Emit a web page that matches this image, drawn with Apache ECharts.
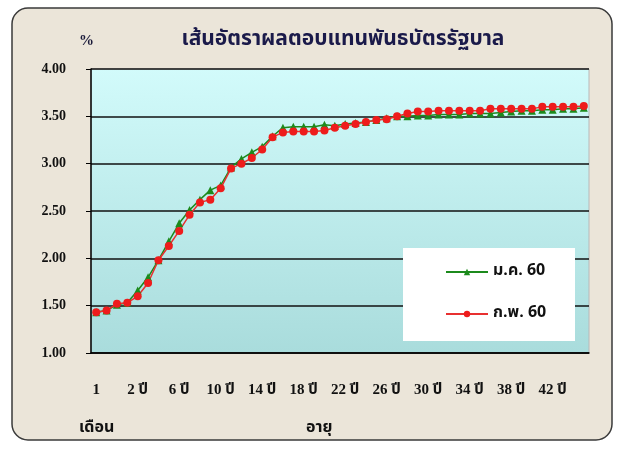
<!DOCTYPE html>
<html>
<head>
<meta charset="utf-8">
<script src="https://cdn.jsdelivr.net/npm/echarts@6/dist/echarts.min.js"></script>
<style>
  html, body { margin: 0; padding: 0; background: #fff; }
  #yield { width: 624px; height: 451px; }
</style>
</head>
<body>
<section id="yield"></section>
<script>
// categories: 1 month, 3 months, 6 months, 1 year, then 2..45 years
var terms = ['1', '3', '6', '1 ปี']
for (var y = 2; y <= 45; y++) terms.push(y + ' ปี')

var janValues = [1.43, 1.45, 1.51, 1.53, 1.66, 1.80, 1.98, 2.18, 2.37, 2.51,
  2.62, 2.72, 2.77, 2.96, 3.05, 3.12, 3.18, 3.29, 3.38, 3.39,
  3.39, 3.39, 3.41, 3.40, 3.42, 3.43, 3.44, 3.46, 3.48, 3.50,
  3.50, 3.51, 3.51, 3.52, 3.52, 3.52, 3.53, 3.53, 3.53, 3.54,
  3.55, 3.56, 3.56, 3.57, 3.57, 3.58, 3.58, 3.59]

var febValues = [1.43, 1.45, 1.52, 1.53, 1.60, 1.74, 1.98, 2.13, 2.29, 2.46,
  2.59, 2.62, 2.74, 2.95, 3.00, 3.06, 3.15, 3.28, 3.33, 3.34,
  3.34, 3.34, 3.35, 3.38, 3.40, 3.42, 3.44, 3.46, 3.47, 3.50,
  3.53, 3.55, 3.55, 3.56, 3.56, 3.56, 3.56, 3.56, 3.58, 3.58,
  3.58, 3.58, 3.58, 3.60, 3.60, 3.60, 3.60, 3.61]

var seriesNames = ['ม.ค. 60', 'ก.พ. 60']

var thaiFont = "'Noto Sans Thai', 'Loma', 'Garuda', 'Norasi', 'DejaVu Serif', serif"
var numFont = "'Liberation Serif', 'Times New Roman', " + thaiFont

var chart = echarts.init(document.getElementById('yield'))
var option = {
  animation: false,
  backgroundColor: '#fff',
  graphic: [
    {
      type: 'rect',
      z: -10,
      shape: { x: 12, y: 8, width: 600, height: 432, r: 16 },
      style: { fill: '#ebe5d9', stroke: '#3a3a3a', lineWidth: 1.5 }
    },
    {
      type: 'text',
      left: 79,
      top: 34,
      style: { text: '%', fill: '#1a1a3a', font: 'bold 15px ' + numFont }
    },
    {
      type: 'text',
      left: 79,
      top: 421,
      style: { text: 'เดือน', fill: '#111', font: 'bold 16px ' + thaiFont }
    },
    {
      type: 'text',
      left: 306,
      top: 421,
      style: { text: 'อายุ', fill: '#111', font: 'bold 16px ' + thaiFont }
    },
    {
      type: 'rect',
      z: 5,
      shape: { x: 403, y: 248, width: 172, height: 93 },
      style: { fill: '#fff' }
    }
  ],
  title: {
    text: 'เส้นอัตราผลตอบแทนพันธบัตรรัฐบาล',
    left: 338,
    textAlign: 'center',
    top: 25,
    textStyle: { fontSize: 21, fontWeight: 'bold', color: '#1a1a4a', fontFamily: thaiFont }
  },
  legend: {
    orient: 'vertical',
    left: 440,
    top: 259,
    itemGap: 26,
    itemWidth: 42,
    itemHeight: 8,
    z: 10,
    textStyle: { fontSize: 16, fontWeight: 'bold', color: '#111', fontFamily: thaiFont },
    data: seriesNames
  },
  grid: {
    left: 91,
    right: 35,
    top: 69,
    bottom: 98,
    show: true,
    borderWidth: 1,
    borderColor: '#b8b8b8',
    backgroundColor: new echarts.graphic.LinearGradient(0, 0, 0, 1, [
      { offset: 0, color: '#d2fbfb' },
      { offset: 1, color: '#a9dcdc' }
    ])
  },
  xAxis: {
    type: 'category',
    data: terms,
    boundaryGap: true,
    axisLine: { lineStyle: { color: '#000', width: 1.5 } },
    axisTick: { interval: 0, length: 9, lineStyle: { color: '#000', width: 1 } },
    axisLabel: {
      interval: 3,
      margin: 30,
      color: '#111',
      fontSize: 15,
      fontWeight: 'bold',
      fontFamily: numFont
    }
  },
  yAxis: {
    type: 'value',
    min: 1,
    max: 4,
    interval: 0.5,
    axisLine: { show: true, lineStyle: { color: '#000', width: 1.5 } },
    axisTick: { show: true, length: 5, lineStyle: { color: '#000' } },
    splitLine: { lineStyle: { color: '#111', width: 1.5 } },
    axisLabel: {
      margin: 25,
      color: '#111',
      fontSize: 14,
      fontWeight: 'bold',
      fontFamily: numFont,
      formatter: function (v) { return v.toFixed(2) }
    }
  },
  series: [
    {
      name: seriesNames[0],
      type: 'line',
      data: janValues,
      symbol: 'triangle',
      symbolSize: 8,
      showAllSymbol: true,
      itemStyle: { color: '#1c8a1c' },
      lineStyle: { color: '#1c8a1c', width: 1.5 }
    },
    {
      name: seriesNames[1],
      type: 'line',
      data: febValues,
      symbol: 'circle',
      symbolSize: 8,
      showAllSymbol: true,
      itemStyle: { color: '#ee1c1c' },
      lineStyle: { color: '#e83030', width: 1.5 }
    }
  ]
}
chart.setOption(option)
</script>
</body>
</html>
